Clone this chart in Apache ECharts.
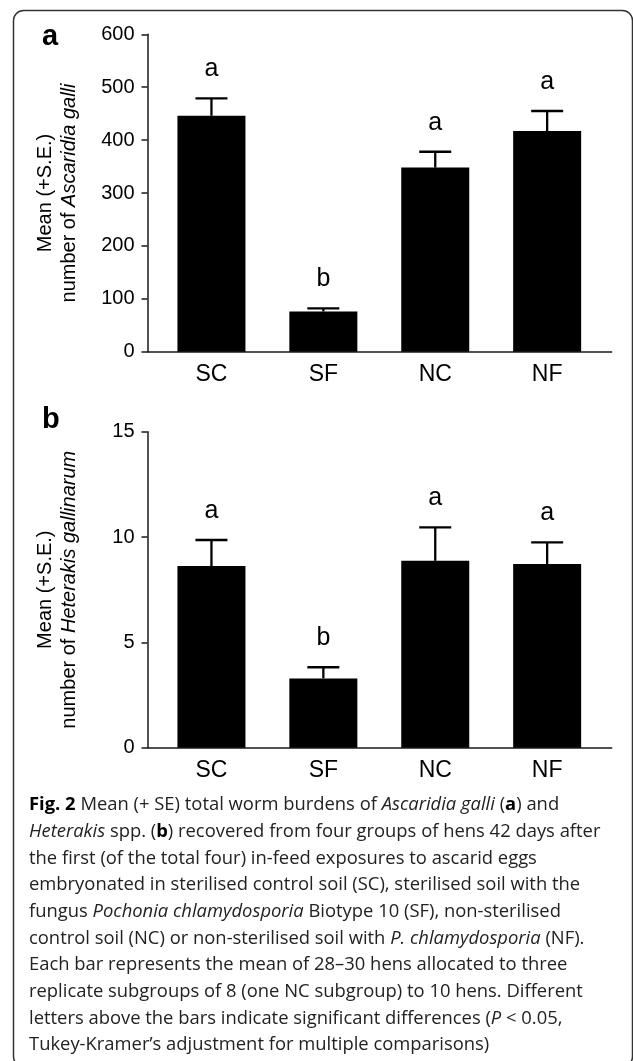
<!DOCTYPE html>
<html>
<head>
<meta charset="utf-8">
<script src="https://cdn.jsdelivr.net/npm/echarts@6/dist/echarts.min.js"></script>
<style>html,body{margin:0;padding:0;background:#fff;}</style>
</head>
<body>
<div id="main" style="width:633px;height:1061px;"></div>
<script type="text/javascript">

// values
var categories = ['SC', 'SF', 'NC', 'NF'];
var ascMean = [446, 76, 348, 417];
var ascSE = [33, 6, 30, 38];
var ascLetters = ['a', 'b', 'a', 'a'];
var hetMean = [8.62, 3.29, 8.87, 8.72];
var hetSE = [1.24, 0.53, 1.59, 1.03];
var hetLetters = ['a', 'b', 'a', 'a'];
var ascAxis = [0, 600, 100];   // min, max, interval
var hetAxis = [0, 15, 5];

var captionLines = [
    '{b|Fig. 2} Mean (+ SE) total worm burdens of {i|Ascaridia galli} ({b|a}) and',
    '{i|Heterakis} spp. ({b|b}) recovered from four groups of hens 42 days after',
    'the first (of the total four) in-feed exposures to ascarid eggs',
    'embryonated in sterilised control soil (SC), sterilised soil with the',
    'fungus {i|Pochonia chlamydosporia} Biotype 10 (SF), non-sterilised',
    'control soil (NC) or non-sterilised soil with {i|P. chlamydosporia} (NF).',
    'Each bar represents the mean of 28\u201330 hens allocated to three',
    'replicate subgroups of 8 (one NC subgroup) to 10 hens. Different',
    'letters above the bars indicate significant differences ({i|P} < 0.05,',
    'Tukey-Kramer\u2019s adjustment for multiple comparisons)'
];

var FONT = '"Liberation Sans", Arial, sans-serif';
var CAP_FONT = '"Open Sans", "Noto Sans", sans-serif';
var CAP_SIZE = 18.4;
var AX = '#1a1a1a';

var panels = [
    {top: 34.3, height: 317.4},
    {top: 431.7, height: 316}
];

var myChart = echarts.init(document.getElementById('main'));

function errorBars(means, ses, letters) {
    return function (params, api) {
        var i = params.dataIndex;
        var p0 = api.coord([i, means[i]]);
        var p1 = api.coord([i, means[i] + ses[i]]);
        return {
            type: 'group',
            children: [
                {type: 'line', shape: {x1: p0[0], y1: p0[1], x2: p1[0], y2: p1[1]},
                 style: {stroke: '#000', lineWidth: 2.3}},
                {type: 'line', shape: {x1: p1[0] - 16, y1: p1[1], x2: p1[0] + 16, y2: p1[1]},
                 style: {stroke: '#000', lineWidth: 2.3}},
                {type: 'text', style: {text: letters[i], x: p1[0], y: p1[1] - 29,
                 align: 'center', verticalAlign: 'middle', fill: '#000',
                 fontSize: 25, fontFamily: FONT}}
            ]
        };
    };
}

var grids = [], xAxes = [], yAxes = [];
[ascAxis, hetAxis].forEach(function (ax, k) {
    var p = panels[k];
    grids.push({left: 147.5, top: p.top, width: 464.2, height: p.height});
    grids.push({left: 155.5, top: p.top, width: 447.6, height: p.height});
    xAxes.push({
        gridIndex: 2 * k, type: 'value', min: 0, max: 1,
        axisLine: {show: true, lineStyle: {color: AX, width: 1.5}},
        axisTick: {show: false}, axisLabel: {show: false}, splitLine: {show: false}
    });
    xAxes.push({
        gridIndex: 2 * k + 1, type: 'category', data: categories,
        axisLine: {show: false}, axisTick: {show: false},
        axisLabel: {color: '#000', fontSize: 23, fontFamily: FONT, margin: 11}
    });
    yAxes.push({
        gridIndex: 2 * k, type: 'value', min: ax[0], max: ax[1], interval: ax[2],
        axisLine: {show: true, lineStyle: {color: AX, width: 1.5}},
        axisTick: {show: true, length: 6, lineStyle: {color: AX, width: 1.5}},
        axisLabel: {color: '#000', fontSize: 20, fontFamily: FONT, margin: 13},
        splitLine: {show: false}
    });
    yAxes.push({
        gridIndex: 2 * k + 1, type: 'value', min: ax[0], max: ax[1], show: false,
        splitLine: {show: false}
    });
});

var graphics = [
    {type: 'rect', shape: {x: 13.5, y: 10.5, width: 619, height: 1056, r: 10},
     style: {fill: 'none', stroke: '#333', lineWidth: 1.5}},
    {type: 'text', x: 42, y: 36.6, style: {text: 'a', fontSize: 29, fontWeight: 'bold',
     fontFamily: FONT, fill: '#000', align: 'left', verticalAlign: 'middle'}},
    {type: 'text', x: 42, y: 419.6, style: {text: 'b', fontSize: 29, fontWeight: 'bold',
     fontFamily: FONT, fill: '#000', align: 'left', verticalAlign: 'middle'}}
];

var titles = [
    ['Mean (+S.E.)', 'number of {i|Ascaridia galli}'],
    ['Mean (+S.E.)', 'number of {i|Heterakis gallinarum}']
];
titles.forEach(function (t, k) {
    var cy = panels[k].top + panels[k].height / 2;
    [45, 69].forEach(function (cx, j) {
        graphics.push({
            type: 'text', x: cx, y: cy, rotation: Math.PI / 2,
            style: {text: t[j], x: 0, y: 0, align: 'center', verticalAlign: 'middle',
                fontSize: 20, fontFamily: FONT, fill: '#000',
                rich: {i: {fontStyle: 'italic', fontSize: 20, fontFamily: FONT, fill: '#000'}}}
        });
    });
});

captionLines.forEach(function (line, i) {
    graphics.push({
        type: 'text', x: 29, y: 805 + i * 26.67,
        style: {text: line, align: 'left', verticalAlign: 'middle',
            fontSize: CAP_SIZE, fontFamily: CAP_FONT, fill: '#222',
            rich: {
                b: {fontWeight: 'bold', fontSize: CAP_SIZE, fontFamily: CAP_FONT, fill: '#000'},
                i: {fontStyle: 'italic', fontSize: CAP_SIZE, fontFamily: CAP_FONT, fill: '#222'}
            }}
    });
});

myChart.setOption({
    animation: false,
    backgroundColor: '#fff',
    grid: grids,
    xAxis: xAxes,
    yAxis: yAxes,
    series: [
        {type: 'bar', xAxisIndex: 1, yAxisIndex: 1, data: ascMean, barWidth: 68,
         itemStyle: {color: '#000'}},
        {type: 'custom', xAxisIndex: 1, yAxisIndex: 1, data: ascMean,
         renderItem: errorBars(ascMean, ascSE, ascLetters), clip: false, z: 3},
        {type: 'bar', xAxisIndex: 3, yAxisIndex: 3, data: hetMean, barWidth: 68,
         itemStyle: {color: '#000'}},
        {type: 'custom', xAxisIndex: 3, yAxisIndex: 3, data: hetMean,
         renderItem: errorBars(hetMean, hetSE, hetLetters), clip: false, z: 3}
    ],
    graphic: graphics
});

</script>
</body>
</html>
